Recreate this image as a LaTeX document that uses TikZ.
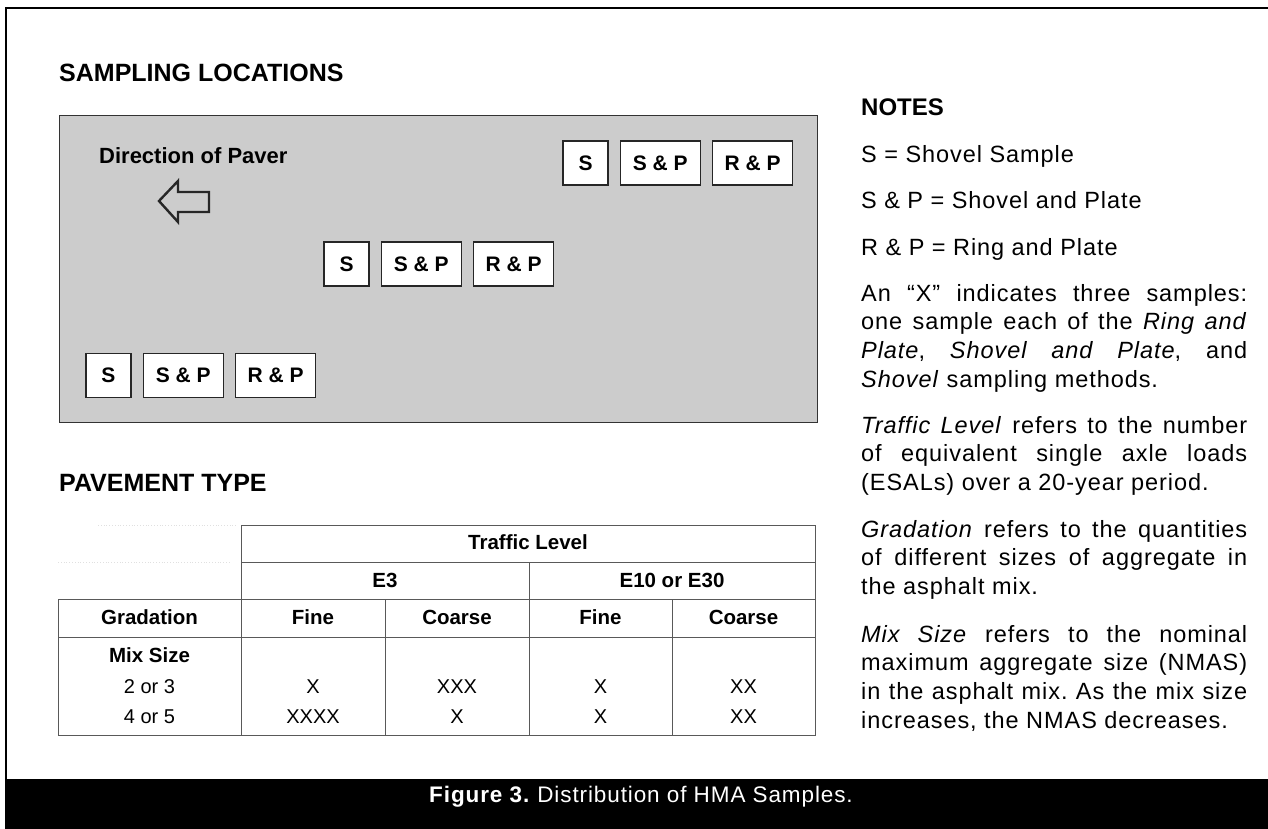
\documentclass[tikz,border=0pt]{standalone}
\usepackage{fontspec}
\setmainfont{Liberation Sans}
\newfontfamily\notefont[LetterSpace=4]{Liberation Sans}
\usetikzlibrary{positioning}

\begin{document}
\frenchspacing
\begin{tikzpicture}[
        x=1pt, y=-1pt,
        node distance=11pt,
        heading/.style={
            anchor=base west,
            inner sep=0pt,
            font=\bfseries\fontsize{25}{29}\selectfont
        },
        samplebox/.style={
            draw=black!85,
            line width=1.3pt,
            fill=white,
            inner sep=0pt,
            minimum height=44pt,
            font=\bfseries\fontsize{21}{24}\selectfont
        },
        narrowbox/.style={samplebox, minimum width=45pt},
        widebox/.style={samplebox, minimum width=80pt},
        headcell/.style={
            anchor=base, inner sep=0pt,
            font=\bfseries\fontsize{20.5}{24}\selectfont
        },
        cell/.style={
            anchor=base, inner sep=0pt,
            font=\fontsize{20}{24}\selectfont
        },
        tableline/.style={draw=black!65, line width=1pt},
        faintline/.style={draw=black!12, line width=0.8pt, dotted},
        note/.style={
            anchor=base west,
            inner sep=0pt,
            text width=386pt,
            align=justify,
            font=\notefont\fontsize{23.5}{28.7}\selectfont
        }
    ]

    \useasboundingbox (0,0) rectangle (1268,829);

    % frame and caption bar
    \draw[line width=2pt] (6,779) -- (6,8) -- (1268,8);
    \fill[black] (5,779) rectangle (1268,829);
    \node[anchor=base, text=white, inner sep=0pt,
        font=\notefont\fontsize{22.5}{26}\selectfont] (caption) at (641,802)
        {\textbf{Figure 3.} Distribution of HMA Samples.};

    % sampling locations
    \node[heading] (samphead) at (59,82) {SAMPLING LOCATIONS};
    \draw[fill=black!20, draw=black!80, line width=1pt] (59,116) rectangle (817,422);

    \node[heading, font=\bfseries\fontsize{22}{26}\selectfont] (paver) at (99,164) {Direction of Paver};
    \draw[line width=2.4pt, draw=black!85, line join=miter]
        (159,201) -- (178,181) -- (178,192) -- (209,192)
        -- (209,212) -- (178,212) -- (178,222) -- cycle;

    \node[narrowbox] (sA) at (585.5,163) {S};
    \node[widebox, right=of sA] (spA) {S \& P};
    \node[widebox, right=of spA] (rpA) {R \& P};

    \node[narrowbox] (sB) at (346.5,264) {S};
    \node[widebox, right=of sB] (spB) {S \& P};
    \node[widebox, right=of spB] (rpB) {R \& P};

    \node[narrowbox] (sC) at (108.5,375.5) {S};
    \node[widebox, right=of sC] (spC) {S \& P};
    \node[widebox, right=of spC] (rpC) {R \& P};

    % pavement type table
    \node[heading] (pavhead) at (59,491) {PAVEMENT TYPE};

    \draw[faintline] (98,525) -- (236,525);
    \draw[faintline] (58,562) -- (230,562);
    \draw[tableline] (241,735) -- (241,525) -- (815,525) -- (815,735) -- (58,735) -- (58,599) -- (815,599);
    \draw[tableline] (241,562) -- (815,562);
    \draw[tableline] (58,637) -- (815,637);
    \draw[tableline] (529,562) -- (529,735);
    \draw[tableline] (385,599) -- (385,735);
    \draw[tableline] (672,599) -- (672,735);

    \node[headcell] (traffic) at (528,549) {Traffic Level};
    \node[headcell] (eA) at (385,587) {E3};
    \node[headcell] (eB) at (672,587) {E10 or E30};
    \node[headcell] (grad) at (149.5,624) {Gradation};
    \node[headcell] (fineA) at (313,624) {Fine};
    \node[headcell] (coarseA) at (457,624) {Coarse};
    \node[headcell] (fineB) at (600.5,624) {Fine};
    \node[headcell] (coarseB) at (743.5,624) {Coarse};
    \node[headcell] (mix) at (149.5,662) {Mix Size};

    \node[cell] (mixA) at (149.5,693) {2 or 3};
    \node[cell] (xA1) at (313,693) {X};
    \node[cell] (xA2) at (457,693) {XXX};
    \node[cell] (xA3) at (600.5,693) {X};
    \node[cell] (xA4) at (743.5,693) {XX};

    \node[cell] (mixB) at (149.5,723) {4 or 5};
    \node[cell] (xB1) at (313,723) {XXXX};
    \node[cell] (xB2) at (457,723) {X};
    \node[cell] (xB3) at (600.5,723) {X};
    \node[cell] (xB4) at (743.5,723) {XX};

    % notes
    \node[heading, font=\bfseries\fontsize{24}{28}\selectfont] (notehead) at (861,116) {NOTES};
    \node[note] (noteS) at (861,163) {S = Shovel Sample};
    \node[note] (noteSP) at (861,208) {S \& P = Shovel and Plate};
    \node[note] (noteRP) at (861,255) {R \& P = Ring and Plate};
    \node[note] (noteX) at (861,301) {An “X” indicates three samples:\linebreak
        one sample each of the \textit{Ring and}\linebreak
        \textit{Plate}, \textit{Shovel and Plate}, and\linebreak
        \textit{Shovel} sampling methods.};
    \node[note] (noteTL) at (861,433) {\textit{Traffic Level} refers to the number\linebreak
        of equivalent single axle loads\linebreak
        (ESALs) over a 20-year period.};
    \node[note] (noteGr) at (861,537) {\textit{Gradation} refers to the quantities\linebreak
        of different sizes of aggregate in\linebreak
        the asphalt mix.};
    \node[note] (noteMS) at (861,642) {\textit{Mix Size} refers to the nominal\linebreak
        maximum aggregate size (NMAS)\linebreak
        in the asphalt mix. As the mix size\linebreak
        increases, the NMAS decreases.};

\end{tikzpicture}
\end{document}
